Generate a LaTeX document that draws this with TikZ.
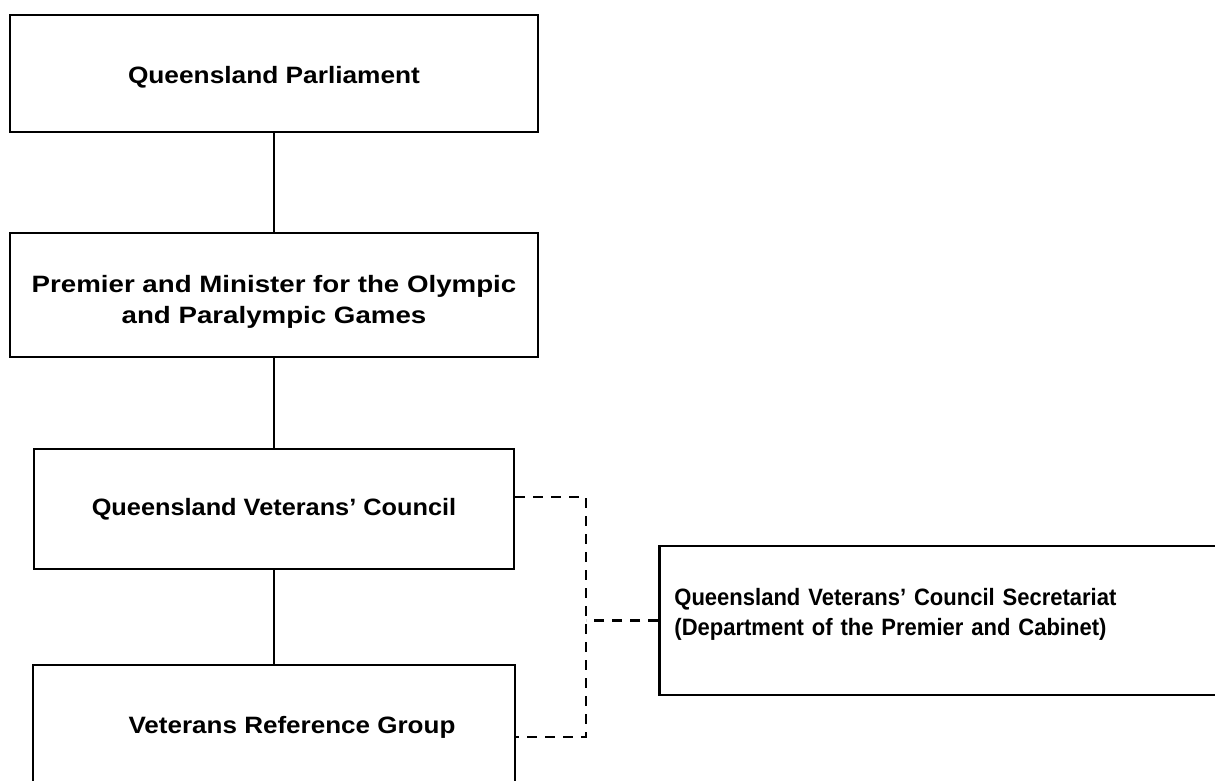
\documentclass[tikz,border=0pt]{standalone}
\usepackage{fontspec}
\setmainfont{Liberation Sans}
\usetikzlibrary{positioning}

\tikzset{
  orgbox/.style={draw, line width=1.7pt, align=center, inner sep=0pt,
    font=\fontsize{14.2pt}{18.4pt}\selectfont\bfseries\addfontfeature{FakeStretch=#1}},
  orgbox/.default=1,
  link/.style={line width=1.7pt},
  dashlink/.style={line width=1.7pt, dash pattern=on 6pt off 4.8pt}
}

\begin{document}
\begin{tikzpicture}[x=0.6pt,y=-0.6pt]
%%
  \useasboundingbox (0,0) rectangle (1215,780);

  \node (node_parl) at (274,73.5) [orgbox=1.11, minimum width=316.8pt, minimum height=70.2pt, text height=14.4pt, text depth=3pt] {Queensland Parliament};

  \node (node_prem) at (274,295) [orgbox=1.17, minimum width=316.8pt, minimum height=74.4pt, text height=36.6pt, text depth=3pt] {Premier and Minister for the Olympic\\and Paralympic Games};

  \node (node_qvc) at (274,509) [orgbox=1.07, minimum width=288pt, minimum height=72pt] {Queensland Veterans' Council};

  \node (node_vrg) at (274,727.5) [orgbox=1.10, minimum width=289.2pt, minimum height=75pt] {\hspace*{21.6pt}Veterans Reference Group};

  \node (node_sec) at (658,620.5) [orgbox=0.93, anchor=west, minimum width=360pt, minimum height=89.4pt, text width=351pt, align=left, inner xsep=9pt, text height=0pt, text depth=18.6pt] {Queensland Veterans' Council Secretariat\\(Department of the Premier and Cabinet)};

  \coordinate (bus_top) at (586,497);
  \coordinate (bus_bot) at (586,737);

  \draw [link] (node_parl) -- (node_prem);
  \draw [link] (node_prem) -- (node_qvc);
  \draw [link] (node_qvc) -- (node_vrg);
  \draw [dashlink] (node_qvc.east |- bus_top) -- (bus_top) -- (bus_bot) -- (bus_bot -| node_vrg.east);
  \draw [dashlink] (node_sec.west) -- (node_sec.west -| bus_top);
%
\end{tikzpicture}
\end{document}
